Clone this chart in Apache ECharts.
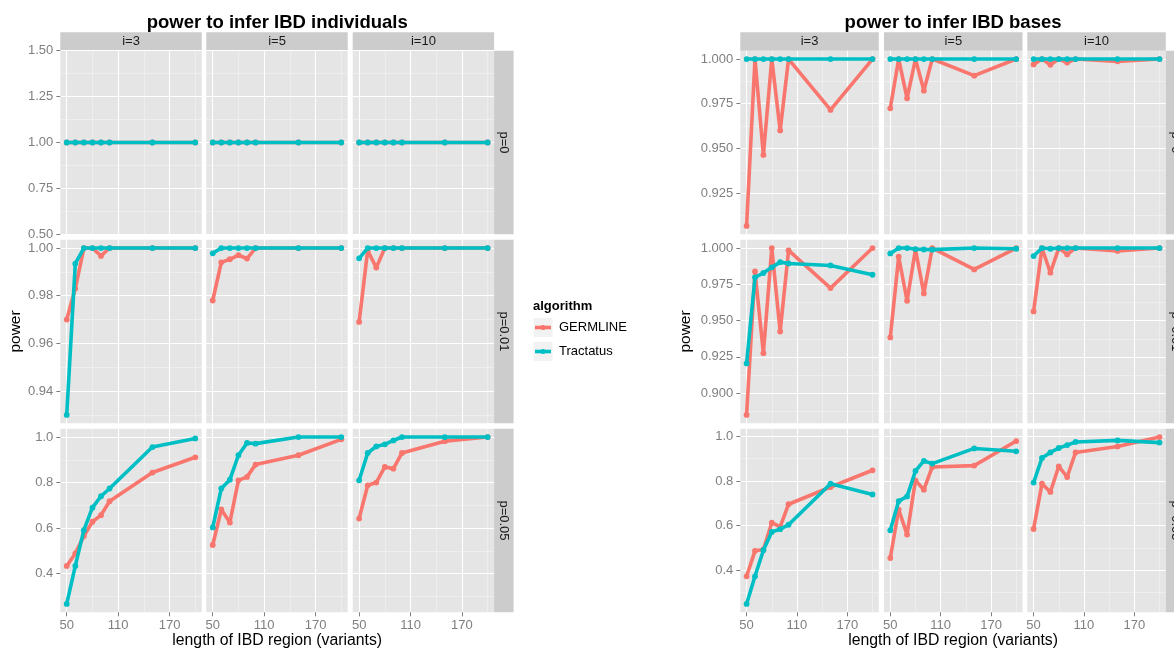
<!DOCTYPE html>
<html><head><meta charset="utf-8">
<script src="https://cdn.jsdelivr.net/npm/echarts@6/dist/echarts.min.js"></script>
<style>html,body{margin:0;padding:0;background:#fff}#c{width:1174px;height:652px}</style>
</head><body><div id="c"></div>
<script>
// ---------- data ----------
const lengths = [50, 60, 70, 80, 90, 100, 150, 200];
const colLabels = ['i=3', 'i=5', 'i=10'];
const rowLabels = ['p=0', 'p=0.01', 'p=0.05'];
const algorithms = ['GERMLINE', 'Tractatus'];
const xTickLabels = [50, 110, 170];
const xMinorTicks = [80, 140, 200];

// power to infer IBD individuals (rows: i=3, i=5, i=10)
const indGermP0 = [
  [1, 1, 1, 1, 1, 1, 1, 1],
  [1, 1, 1, 1, 1, 1, 1, 1],
  [1, 1, 1, 1, 1, 1, 1, 1]];
const indTracP0 = [
  [1, 1, 1, 1, 1, 1, 1, 1],
  [1, 1, 1, 1, 1, 1, 1, 1],
  [1, 1, 1, 1, 1, 1, 1, 1]];
const indGermP001 = [
  [0.970, 0.983, 1.000, 1.000, 0.9967, 1.000, 1.000, 1.000],
  [0.978, 0.994, 0.9953, 0.997, 0.9956, 1.000, 1.000, 1.000],
  [0.969, 0.999, 0.9918, 1.000, 1.000, 1.000, 1.000, 1.000]];
const indTracP001 = [
  [0.930, 0.9935, 1, 1, 1, 1, 1, 1],
  [0.9978, 1, 1, 1, 1, 1, 1, 1],
  [0.9957, 1, 1, 1, 1, 1, 1, 1]];
const indGermP005 = [
  [0.434, 0.489, 0.565, 0.628, 0.657, 0.718, 0.844, 0.911],
  [0.526, 0.682, 0.625, 0.810, 0.825, 0.879, 0.920, 0.990],
  [0.642, 0.788, 0.800, 0.869, 0.861, 0.930, 0.982, 1.000]];
const indTracP005 = [
  [0.267, 0.434, 0.591, 0.690, 0.740, 0.774, 0.956, 0.994],
  [0.603, 0.774, 0.813, 0.920, 0.974, 0.971, 1.000, 1.000],
  [0.810, 0.930, 0.959, 0.968, 0.985, 1.000, 1.000, 1.000]];
const indYMajor = [[0.50, 0.75, 1.00, 1.25, 1.50], [0.94, 0.96, 0.98, 1.00], [0.4, 0.6, 0.8, 1.0]];
const indYMinor = [[0.625, 0.875, 1.125, 1.375], [0.93, 0.95, 0.97, 0.99], [0.3, 0.5, 0.7, 0.9]];

// power to infer IBD bases
const basGermP0 = [
  [0.9065, 1, 0.9463, 1, 0.960, 1, 0.9715, 1],
  [0.9724, 1, 0.978, 1, 0.9823, 1, 0.9907, 1],
  [0.997, 1, 0.9968, 1, 0.998, 1, 0.9987, 1]];
const basTracP0 = [
  [1, 1, 1, 1, 1, 1, 1, 1],
  [1, 1, 1, 1, 1, 1, 1, 1],
  [1, 1, 1, 1, 1, 1, 1, 1]];
const basGermP001 = [
  [0.885, 0.9839, 0.9276, 1.000, 0.9425, 0.9984, 0.9724, 1.000],
  [0.9384, 0.994, 0.9637, 0.999, 0.9687, 1.000, 0.9853, 1.000],
  [0.9563, 1.000, 0.983, 1.000, 0.9956, 1.000, 0.998, 1.000]];
const basTracP001 = [
  [0.9205, 0.9798, 0.9828, 0.9867, 0.9903, 0.9894, 0.988, 0.9816],
  [0.9963, 1.000, 1.000, 0.9993, 0.999, 0.9989, 1.000, 0.9995],
  [0.9945, 1.000, 0.9995, 1.000, 1.000, 1.000, 1.000, 1.000]];
const basGermP005 = [
  [0.373, 0.487, 0.493, 0.613, 0.594, 0.696, 0.773, 0.848],
  [0.455, 0.672, 0.560, 0.803, 0.761, 0.863, 0.869, 0.979],
  [0.585, 0.788, 0.751, 0.866, 0.818, 0.928, 0.955, 0.997]];
const basTracP005 = [
  [0.249, 0.373, 0.490, 0.572, 0.584, 0.604, 0.788, 0.740],
  [0.579, 0.710, 0.731, 0.845, 0.890, 0.878, 0.946, 0.933],
  [0.793, 0.903, 0.928, 0.948, 0.961, 0.975, 0.982, 0.972]];
const basYMajor = [[0.925, 0.950, 0.975, 1.000], [0.900, 0.925, 0.950, 0.975, 1.000], [0.4, 0.6, 0.8, 1.0]];
const basYMinor = [[0.9125, 0.9375, 0.9625, 0.9875], [0.8875, 0.9125, 0.9375, 0.9625, 0.9875], [0.3, 0.5, 0.7, 0.9]];

// ---------- layout ----------
const FONT = 'Liberation Sans';
const COLORS = ['#F8766D', '#00BFC4'];
const rowY = [50.7, 239.7, 428.7];
const rowH = 183.6;
const xMin = 42.5, xMax = 207.5;

const panels = [
  { title: 'power to infer IBD individuals', colX: [60.3, 206.3, 352.7], w: 141.4,
    germ: [indGermP0, indGermP001, indGermP005], trac: [indTracP0, indTracP001, indTracP005],
    yMajor: indYMajor, yMinor: indYMinor, yDec: [2, 2, 1], powerX: 15.5 },
  { title: 'power to infer IBD bases', colX: [740.3, 884.0, 1027.3], w: 138.5,
    germ: [basGermP0, basGermP001, basGermP005], trac: [basTracP0, basTracP001, basTracP005],
    yMajor: basYMajor, yMinor: basYMinor, yDec: [3, 3, 1], powerX: 685.5 }
];

const grids = [], xAxes = [], yAxes = [], series = [], graphics = [];

function yRange(p, r) {
  let lo = Infinity, hi = -Infinity;
  [p.germ[r], p.trac[r]].forEach(rows => rows.forEach(a => a.forEach(v => { lo = Math.min(lo, v); hi = Math.max(hi, v); })));
  if (hi - lo < 1e-9) return [lo - 0.5, hi + 0.5];
  const pad = (hi - lo) * 0.05;
  return [lo - pad, hi + pad];
}

panels.forEach((p, pi) => {
  for (let r = 0; r < 3; r++) {
    const [ymin, ymax] = yRange(p, r);
    const maj = p.yMajor[r].filter(v => v >= ymin - 1e-9 && v <= ymax + 1e-9);
    const mnr = p.yMinor[r].filter(v => v >= ymin && v <= ymax);
    for (let c = 0; c < 3; c++) {
      const g = grids.length;
      grids.push({ left: p.colX[c], top: rowY[r], width: p.w, height: rowH,
        show: true, backgroundColor: '#E5E5E5', borderWidth: 0, containLabel: false, outerBoundsMode: 'none' });
      const isBottom = r === 2, isLeft = c === 0;
      const xi = xAxes.length;
      xAxes.push({ type: 'value', gridIndex: g, min: xMin, max: xMax, z: 1,
        axisLine: { show: false },
        axisTick: { show: isBottom, customValues: xTickLabels, length: 4, lineStyle: { color: '#7F7F7F', width: 1 } },
        axisLabel: { show: isBottom, customValues: xTickLabels, color: '#7F7F7F', fontSize: 13, fontFamily: FONT, margin: 7 },
        splitLine: { show: true, lineStyle: { color: '#FFFFFF', width: 1.1 } } });
      xAxes.push({ type: 'value', gridIndex: g, min: xMin, max: xMax, z: 0,
        axisLine: { show: false },
        axisTick: { show: false, customValues: xMinorTicks },
        axisLabel: { show: false },
        splitLine: { show: true, lineStyle: { color: '#F4F4F4', width: 0.6 } } });
      const yi = yAxes.length;
      const dec = p.yDec[r];
      yAxes.push({ type: 'value', gridIndex: g, min: ymin, max: ymax, z: 1,
        axisLine: { show: false },
        axisTick: { show: isLeft, customValues: maj, length: 4, lineStyle: { color: '#7F7F7F', width: 1 } },
        axisLabel: { show: isLeft, customValues: maj, color: '#7F7F7F', fontSize: 13, fontFamily: FONT, margin: 7,
          formatter: v => Number(v).toFixed(dec) },
        splitLine: { show: true, lineStyle: { color: '#FFFFFF', width: 1.1 } } });
      yAxes.push({ type: 'value', gridIndex: g, min: ymin, max: ymax, z: 0,
        axisLine: { show: false },
        axisTick: { show: false, customValues: mnr },
        axisLabel: { show: false },
        splitLine: { show: true, lineStyle: { color: '#F4F4F4', width: 0.6 } } });
      [p.germ[r][c], p.trac[r][c]].forEach((vals, ai) => {
        series.push({ type: 'line', name: algorithms[ai], xAxisIndex: xi, yAxisIndex: yi,
          data: lengths.map((x, k) => [x, vals[k]]),
          symbol: 'circle', symbolSize: 5.8, showSymbol: true,
          lineStyle: { color: COLORS[ai], width: 3.6 }, itemStyle: { color: COLORS[ai] },
          z: 2 + ai, silent: true, animation: false });
      });
    }
    const sx = p.colX[2] + p.w;
    graphics.push({ type: 'rect', shape: { x: sx, y: rowY[r], width: 19.5, height: rowH }, style: { fill: '#CCCCCC' }, silent: true });
    graphics.push({ type: 'text', x: sx + 9.75, y: rowY[r] + rowH / 2, rotation: -Math.PI / 2,
      style: { text: rowLabels[r], fill: '#1A1A1A', font: '13px "' + FONT + '"', textAlign: 'center', textVerticalAlign: 'middle' }, silent: true });
  }
  for (let c = 0; c < 3; c++) {
    graphics.push({ type: 'rect', shape: { x: p.colX[c], y: 32.3, width: p.w, height: 18.4 }, style: { fill: '#CCCCCC' }, silent: true });
    graphics.push({ type: 'text', x: p.colX[c] + p.w / 2, y: 41.7,
      style: { text: colLabels[c], fill: '#1A1A1A', font: '13px "' + FONT + '"', textAlign: 'center', textVerticalAlign: 'middle' }, silent: true });
  }
  const cx = (p.colX[0] + p.colX[2] + p.w) / 2;
  graphics.push({ type: 'text', x: cx, y: 22.5,
    style: { text: p.title, fill: '#000000', font: 'bold 18.5px "' + FONT + '"', textAlign: 'center', textVerticalAlign: 'middle' }, silent: true });
  graphics.push({ type: 'text', x: cx, y: 641,
    style: { text: 'length of IBD region (variants)', fill: '#000000', font: '15.8px "' + FONT + '"', textAlign: 'center', textVerticalAlign: 'middle' }, silent: true });
  graphics.push({ type: 'text', x: p.powerX, y: (rowY[0] + rowY[2] + rowH) / 2, rotation: Math.PI / 2,
    style: { text: 'power', fill: '#000000', font: '15.5px "' + FONT + '"', textAlign: 'center', textVerticalAlign: 'middle' }, silent: true });
});

// legend
graphics.push({ type: 'text', x: 533, y: 306.7,
  style: { text: 'algorithm', fill: '#000000', font: 'bold 13px "' + FONT + '"', textAlign: 'left', textVerticalAlign: 'middle' }, silent: true });
algorithms.forEach((name, ai) => {
  const ky = 317.5 + ai * 24;
  graphics.push({ type: 'rect', shape: { x: 533, y: ky, width: 20, height: 20 }, style: { fill: '#F2F2F2', stroke: '#FFFFFF', lineWidth: 1 }, silent: true });
  graphics.push({ type: 'line', shape: { x1: 535, y1: ky + 10, x2: 551, y2: ky + 10 }, style: { stroke: COLORS[ai], lineWidth: 3.6 }, silent: true });
  graphics.push({ type: 'circle', shape: { cx: 543, cy: ky + 10, r: 2.5 }, style: { fill: COLORS[ai] }, silent: true });
  graphics.push({ type: 'text', x: 559, y: ky + 10,
    style: { text: name, fill: '#000000', font: '13px "' + FONT + '"', textAlign: 'left', textVerticalAlign: 'middle' }, silent: true });
});

const chart = echarts.init(document.getElementById('c'), null, { renderer: 'canvas' });
chart.setOption({
  animation: false,
  backgroundColor: '#FFFFFF',
  textStyle: { fontFamily: FONT },
  grid: grids, xAxis: xAxes, yAxis: yAxes, series: series,
  graphic: { elements: graphics }
});
</script>
</body></html>
